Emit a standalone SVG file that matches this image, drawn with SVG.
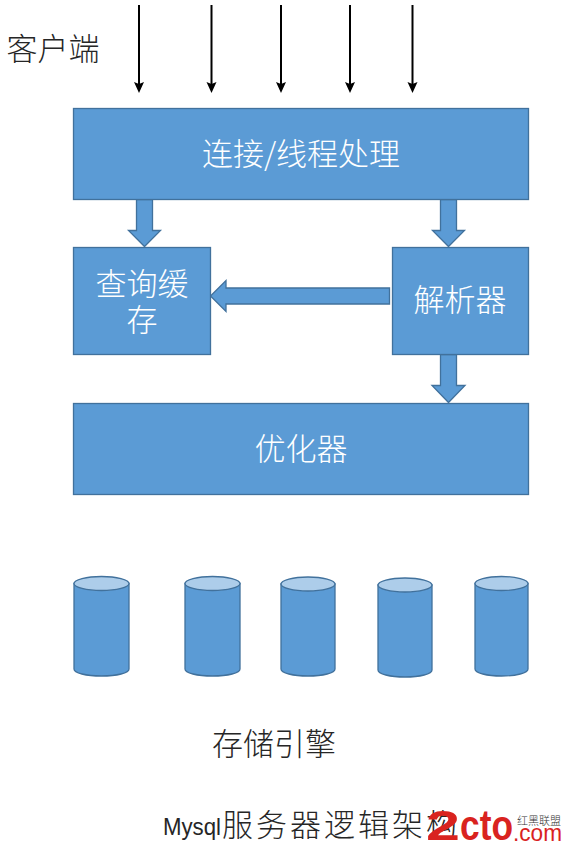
<svg xmlns="http://www.w3.org/2000/svg" width="564" height="852" viewBox="0 0 564 852">
<style>
text{font-family:"Noto Sans CJK SC","Liberation Sans",sans-serif;font-weight:300}
.b{fill:#5B9BD5;stroke:#41719C;stroke-width:1.3}
.top{fill:#ADCDEA;stroke:#41719C;stroke-width:1.3}
.w{fill:#fff;font-size:31px;text-anchor:middle}
.k{fill:#262626;font-size:31px;text-anchor:middle}
.logo{fill:#D9231F;font-family:"Liberation Sans",sans-serif}
</style>
<rect width="564" height="852" fill="#fff"/>
<g id="connectors">
<g style="stroke:#000;stroke-width:2;fill:none">
<path d="M139 5V84"/><path d="M211.500 5V84"/><path d="M281 5V84"/><path d="M350 5V84"/><path d="M412.500 5V84"/>
</g>
<g fill="#000">
<path d="M134 82L139 84L144 82L139 93Z"/><path d="M206.500 82L211.500 84L216.500 82L211.500 93Z"/><path d="M276 82L281 84L286 82L281 93Z"/><path d="M345 82L350 84L355 82L350 93Z"/><path d="M407.500 82L412.500 84L417.500 82L412.500 93Z"/>
</g>
<path class="b" d="M136.500 199.500H152.500V230.500H160.500L144.500 246.500L128.500 230.500H136.500Z"/>
<path class="b" d="M440.500 199.500H456.500V230.500H464.500L448.500 246.500L432.500 230.500H440.500Z"/>
<path class="b" d="M440.500 354.500H456.500V385.500H465L448.500 402.500L432 385.500H440.500Z"/>
<path class="b" d="M389.500 288H226V280.500L210.500 296L226 311.500V304H389.500Z"/>
</g>
<g id="client"><text class="k" x="53" y="60">客户端</text></g>
<g id="conn"><rect class="b" x="73.500" y="108.500" width="455" height="91"/><text class="w" x="301" y="165">连接/线程处理</text></g>
<g id="cache"><rect class="b" x="73.500" y="247.500" width="137" height="107"/><text class="w" x="142" y="295">查询缓</text><text class="w" x="142" y="331">存</text></g>
<g id="parser"><rect class="b" x="392.500" y="247.500" width="136" height="107"/><text class="w" x="460" y="311">解析器</text></g>
<g id="optimizer"><rect class="b" x="73.500" y="403.500" width="455" height="91"/><text class="w" x="301" y="460">优化器</text></g>
<g id="db1"><path class="b" d="M74 583.500V669C74 673 86 676 101.500 676S129 673 129 669V583.500Z"/><ellipse class="top" cx="101.500" cy="583.500" rx="27.500" ry="7"/></g>
<g id="db2"><path class="b" d="M185 583.500V669C185 673 197 676 212.500 676S240 673 240 669V583.500Z"/><ellipse class="top" cx="212.500" cy="583.500" rx="27.500" ry="7"/></g>
<g id="db3"><path class="b" d="M281 584V669C281 673 293 676 308 676S335 673 335 669V584Z"/><ellipse class="top" cx="308" cy="584" rx="27" ry="7"/></g>
<g id="db4"><path class="b" d="M378 585V670C378 674 390 677 405 677S432 674 432 670V585Z"/><ellipse class="top" cx="405" cy="585" rx="27" ry="7"/></g>
<g id="db5"><path class="b" d="M475 583.500V669C475 673 487 676 501.500 676S528 673 528 669V583.500Z"/><ellipse class="top" cx="501.500" cy="583.500" rx="26.500" ry="7"/></g>
<g id="engine"><text class="k" x="274" y="755">存储引擎</text></g>
<g id="title"><text x="163" y="835" font-size="24" fill="#262626" style="font-family:'Liberation Sans',sans-serif;font-weight:400" textLength="58" lengthAdjust="spacingAndGlyphs">Mysql</text><text x="222" y="836" font-size="31" fill="#262626" textLength="235">服务器逻辑架构</text></g>
<g id="watermark">
<text class="logo" x="426" y="840" font-size="43" style="font-weight:700" textLength="34" lengthAdjust="spacingAndGlyphs">2</text>
<text class="logo" x="460" y="840" font-size="43" style="font-weight:700" textLength="53" lengthAdjust="spacingAndGlyphs">cto</text>
<text class="logo" x="513" y="841" font-size="23" style="font-weight:400" textLength="49" lengthAdjust="spacingAndGlyphs">.com</text>
<text x="517" y="825" font-size="11" fill="#333" textLength="44">红黑联盟</text>
</g>
</svg>
